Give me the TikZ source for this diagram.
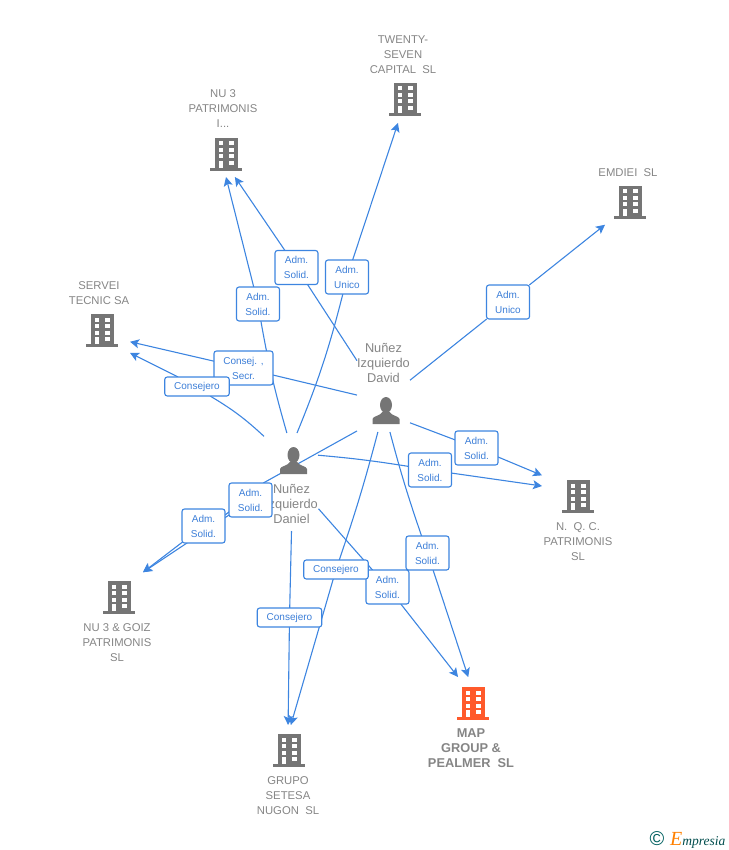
\documentclass[tikz,border=0pt]{standalone}
\usepackage{fontspec}
\setmainfont{Liberation Sans}
\newfontfamily\logofont{Liberation Serif}
\usetikzlibrary{arrows.meta,backgrounds,positioning}
\definecolor{edgeblue}{HTML}{3D85E0}
\definecolor{lblblue}{HTML}{3D7FD8}
\definecolor{bldggray}{HTML}{757575}
\definecolor{txtgray}{HTML}{858585}
\definecolor{mapred}{HTML}{FF5A2B}
\tikzset{
  >={Stealth[length=9pt,width=9pt,inset=2pt]},
  bldg/.pic={
    \path[pic actions] (-11.5,-17) rectangle (11.5,13);
    \path[pic actions] (-16,13) rectangle (16,16);
    \foreach \wy in {-13.5,-7,-0.5} {
      \fill[white] (-7.5,\wy) rectangle (-3,\wy+4);
      \fill[white] (3,\wy) rectangle (7.5,\wy+4);
    }
    \fill[white] (-7.5,6) rectangle (-3,13);
    \fill[white] (3,6) rectangle (7.5,10);
  },
  person/.pic={
    \path[pic actions] (0,-6) ellipse (6 and 8);
    \path[pic actions] (-13.5,13) -- (-13.5,8) .. controls (-13,5) and (-6,5) .. (-3.5,1)
      -- (3.5,1) .. controls (6,5) and (13,5) .. (13.5,8) -- (13.5,13) -- cycle;
  },
  boxnd/.style 2 args={inner sep=0,outer sep=0,minimum width=#1,minimum height=#2},
  nametxt/.style={text=txtgray,align=center,font=\fontsize{11.3}{15}\selectfont},
  lbl/.style={draw=edgeblue,fill=white,rounded corners=2.5,line width=1.1pt,text=lblblue,
    align=center,inner sep=0,outer sep=0,minimum width=43,minimum height=34,
    font=\fontsize{10}{15}\selectfont},
  lblone/.style={lbl,minimum width=64.5,minimum height=19},
}
\begin{document}
\begin{tikzpicture}[x=1pt,y=-1pt,auto=false]
\useasboundingbox (0,0) rectangle (728,850);

% companies
\node[boxnd={50}{44}] (Nu3) at (226,155) {};
\node[boxnd={50}{46}] (Twenty) at (405,100) {};
\node[boxnd={50}{44}] (Emdiei) at (630,203) {};
\node[boxnd={56}{50}] (Servei) at (102,331) {};
\node[boxnd={72}{50}] (Nqc) at (578,497) {};
\node[boxnd={48}{52}] (Goiz) at (119,598) {};
\node[boxnd={50}{54}] (Map) at (473,704) {};
\node[boxnd={50}{52}] (Grupo) at (289,751) {};

\pic[fill=bldggray] at (Nu3) {bldg};
\pic[fill=bldggray] at (Twenty) {bldg};
\pic[fill=bldggray] at (Emdiei) {bldg};
\pic[fill=bldggray] at (Servei) {bldg};
\pic[fill=bldggray] at (Nqc) {bldg};
\pic[fill=bldggray] at (Goiz) {bldg};
\pic[fill=mapred] at (Map) {bldg};
\pic[fill=bldggray] at (Grupo) {bldg};

\begin{scope}[every node/.style={nametxt}]
    \node (Nu3Txt) at (223,109) {NU 3\\PATRIMONIS\\I...};
    \node (TwentyTxt) at (403,55) {TWENTY-\\SEVEN\\CAPITAL\ \ SL};
    \node (EmdieiTxt) at (628,173) {EMDIEI\ \ SL};
    \node (ServeiTxt) at (99,293.5) {SERVEI\\TECNIC SA};
    \node (NqcTxt) at (578,542) {N.\ \ Q. C.\\PATRIMONIS\\SL};
    \node (GoizTxt) at (117,643) {NU 3 \& GOIZ\\PATRIMONIS\\SL};
    \node (GrupoTxt) at (288,796) {GRUPO\\SETESA\\NUGON\ \ SL};
    \node[font=\fontsize{12.8}{15}\selectfont\bfseries] (MapTxt) at (471,748) {MAP\\GROUP \&\\PEALMER\ \ SL};
\end{scope}

% persons
\node[boxnd={53}{42}] (David) at (383.5,411) {};
\node[boxnd={54}{52}] (Daniel) at (291,459) {};
\pic[fill=bldggray] at (386,411) {person};
\pic[fill=bldggray] at (293.5,461) {person};

\begin{scope}[every node/.style={text=txtgray,align=center,inner sep=0,outer sep=0,
              font=\fontsize{12.8}{15}\selectfont}]
    \node[minimum width=53,minimum height=46] (DavidTxt) at (383.5,363) {Nuñez\\Izquierdo\\David};
    \node[minimum width=54,minimum height=54] (DanielTxt) at (291.5,504) {Nuñez\\Izquierdo\\Daniel};
\end{scope}

% roles
\begin{scope}[every node/.style={lbl}]
    \node (lNuDav) at (296.5,267.5) {Adm.\\Solid.};
    \node (lTwenty) at (347,277) {Adm.\\Unico};
    \node (lNuDan) at (258,304) {Adm.\\Solid.};
    \node[minimum width=59] (lServDav) at (243.5,368) {Consej. ,\\Secr.};
    \node (lEmdiei) at (508,302) {Adm.\\Unico};
    \node (lNqcDav) at (476.5,448) {Adm.\\Solid.};
    \node (lNqcDan) at (430,470) {Adm.\\Solid.};
    \node (lGoizDav) at (250.5,500) {Adm.\\Solid.};
    \node (lGoizDan) at (203.5,526) {Adm.\\Solid.};
    \node (lMapDav) at (427.5,553) {Adm.\\Solid.};
    \node (lMapDan) at (387.5,587) {Adm.\\Solid.};
\end{scope}
\begin{scope}[every node/.style={lblone}]
    \node (lServDan) at (197,386.5) {Consejero};
    \node (lGruDav) at (336,569.5) {Consejero};
    \node (lGruDan) at (289.5,617.5) {Consejero};
\end{scope}

% links, under the roles
\begin{scope}[on background layer,every edge/.style={draw=edgeblue,line width=1.1pt}]
    \path (DavidTxt.175) edge (lNuDav);
    \path [->] (lNuDav) edge (Nu3.-68);
    \path (DavidTxt.-33) edge (lEmdiei);
    \path [->] (lEmdiei) edge (Emdiei.-139);
    \path (David.149) edge (lServDav);
    \path [->] (lServDav) edge (Servei.-21);
    \path (David.-24) edge (lNqcDav);
    \path [->] (lNqcDav) edge (Nqc.149);
    \path (David.-73) edge[bend right=2] (lMapDav);
    \path [->] (lMapDav) edge (Map.100);
    \path (David.-105) edge[bend left=2] (lGruDav);
    \path [->] (lGruDav) edge (Grupo.86);
    \path (David.-143) edge (lGoizDav.53);
    \path [->] (lGoizDav.-145) edge (Goiz.47);

    \path (Daniel.99) edge[bend left=3] (lNuDan);
    \path [->] (lNuDan) edge (Nu3.-90);
    \path (Daniel.77) edge[bend right=4] (lTwenty);
    \path [->] (lTwenty) edge (Twenty.-107);
    \path (Daniel.140) edge[bend right=6] (lServDan.-36);
    \path [->] (lServDan) edge (Servei.-38);
    \path (Daniel.8) edge[bend left=2] (lNqcDan);
    \path [->] (lNqcDan) edge (Nqc.163);
    \path (DanielTxt.-10) edge (lMapDan);
    \path [->] (lMapDan) edge (Map.119);
    \path (DanielTxt.-90) edge (lGruDan);
    \path [->] (lGruDan) edge (Grupo.92);
    \path (Daniel.-136) edge (lGoizDan.27);
    \path [->] (lGoizDan) edge (Goiz.47);
\end{scope}

% logo
\node[inner sep=0,text=teal!75!black,font=\fontsize{20}{20}\selectfont] (logoC) at (657,839) {©};
\node[inner sep=0,anchor=west,text=teal!60!black,font=\logofont\itshape\fontsize{13.5}{13.5}\selectfont] (logoE)
    at (670,840) {{\color{orange}\fontsize{20}{20}\selectfont E}mpresia};
\end{tikzpicture}
\end{document}
